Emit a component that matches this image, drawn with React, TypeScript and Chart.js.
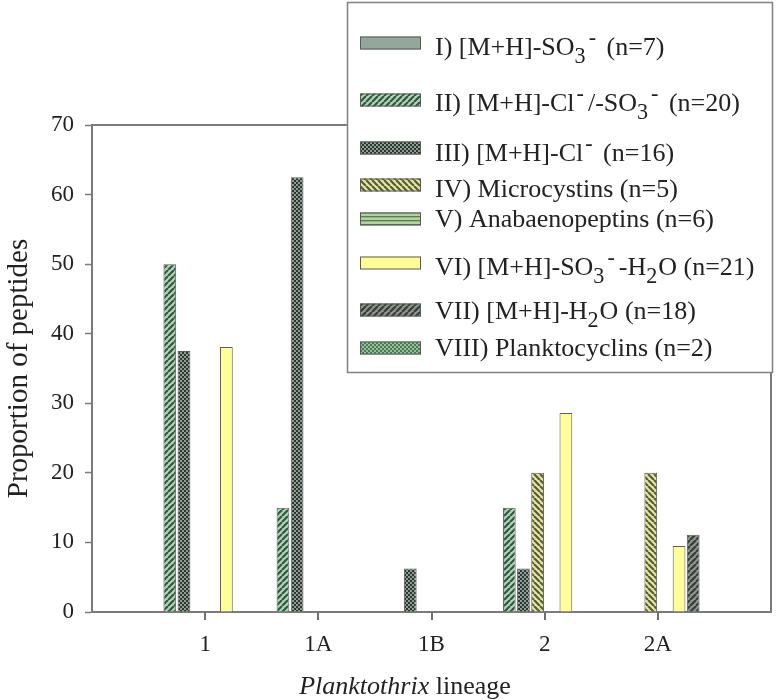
import React, { useEffect, useRef } from 'react';
import { Chart, registerables } from 'chart.js';

Chart.register(...registerables);

// ---------------- data ----------------
const categories = ['1', '1A', '1B', '2', '2A'];

const legendLabels = [
  'I) [M+H]-SO_{3}^{-} (n=7)',
  'II) [M+H]-Cl^{-}/-SO_{3}^{-} (n=20)',
  'III) [M+H]-Cl^{-} (n=16)',
  'IV) Microcystins (n=5)',
  'V) Anabaenopeptins (n=6)',
  'VI) [M+H]-SO_{3}^{-}-H_{2}O (n=21)',
  'VII) [M+H]-H_{2}O (n=18)',
  'VIII) Planktocyclins (n=2)',
];

const seriesI = [0, 0, 0, 0, 0];
const seriesII = [50, 15, 0, 15, 0];
const seriesIII = [37.5, 62.5, 6.25, 6.25, 0];
const seriesIV = [0, 0, 0, 20, 20];
const seriesV = [0, 0, 0, 0, 0];
const seriesVI = [38.1, 0, 0, 28.6, 9.5];
const seriesVII = [0, 0, 0, 0, 11.1];
const seriesVIII = [0, 0, 0, 0, 0];

const yMin = 0;
const yMax = 70;
const yStep = 10;
const yTitle = 'Proportion of peptides';
const xTitleItalic = 'Planktothrix';
const xTitleRest = ' lineage';

// ---------------- helpers ----------------
const FONT = "'Liberation Serif', 'Times New Roman', serif";

type Seg = { t: string; k: 'n' | 'sub' | 'sup' };
function parseRich(s: string): Seg[] {
  const out: Seg[] = [];
  const re = /([_^])\{([^}]*)\}/g;
  let last = 0;
  let m: RegExpExecArray | null;
  while ((m = re.exec(s))) {
    if (m.index > last) out.push({ t: s.slice(last, m.index), k: 'n' });
    out.push({ t: m[2], k: m[1] === '_' ? 'sub' : 'sup' });
    last = re.lastIndex;
  }
  if (last < s.length) out.push({ t: s.slice(last), k: 'n' });
  return out;
}
function plain(s: string) {
  return s.replace(/[_^]\{([^}]*)\}/g, '$1');
}

function drawRich(ctx: CanvasRenderingContext2D, s: string, x: number, y: number, size: number) {
  let cx = x;
  for (const seg of parseRich(s)) {
    const script = seg.k !== 'n';
    const fs = script ? size * 0.85 : size;
    const dy = seg.k === 'sub' ? size * 0.3 : seg.k === 'sup' ? -size * 0.4 : 0;
    if (seg.k === 'sup') cx += 2;
    ctx.font = `${fs}px ${FONT}`;
    ctx.fillText(seg.t, cx, y + dy);
    cx += ctx.measureText(seg.t).width;
    if (seg.k === 'sup') cx += 4;
    if (seg.k === 'sub') cx += 1;
  }
}

function makePattern(
  main: CanvasRenderingContext2D,
  size: number,
  draw: (g: CanvasRenderingContext2D, s: number) => void
) {
  const c = document.createElement('canvas');
  c.width = size;
  c.height = size;
  const g = c.getContext('2d')!;
  draw(g, size);
  return main.createPattern(c, 'repeat')!;
}

function diag(bg: string, fg: string, lw: number, dir: 'up' | 'down') {
  return (g: CanvasRenderingContext2D, s: number) => {
    g.fillStyle = bg;
    g.fillRect(0, 0, s, s);
    g.strokeStyle = fg;
    g.lineWidth = lw;
    g.beginPath();
    for (const k of [-s, 0, s]) {
      if (dir === 'up') {
        g.moveTo(k, s);
        g.lineTo(k + s, 0);
      } else {
        g.moveTo(k, 0);
        g.lineTo(k + s, s);
      }
    }
    g.stroke();
  };
}

function checker(a: string, b: string) {
  return (g: CanvasRenderingContext2D, s: number) => {
    g.fillStyle = a;
    g.fillRect(0, 0, s, s);
    g.fillStyle = b;
    const h = s / 2;
    g.fillRect(0, 0, h, h);
    g.fillRect(h, h, h, h);
  };
}

function hstripes(bg: string, fg: string) {
  return (g: CanvasRenderingContext2D, s: number) => {
    g.fillStyle = bg;
    g.fillRect(0, 0, s, s);
    g.fillStyle = fg;
    g.fillRect(0, 0, s, 1.3);
  };
}

// legend layout (swatch centres and text baselines)
const LEG_SWATCH_Y = [43, 100, 148, 185, 219, 263, 310, 348];
const LEG_TEXT_Y = [55, 111, 161, 197, 227, 275, 319, 356];

export default function App() {
  const ref = useRef<HTMLCanvasElement | null>(null);

  useEffect(() => {
    const canvas = ref.current!;
    const ctx = canvas.getContext('2d')!;

    const fills: (string | CanvasPattern)[] = [
      '#93a79b',
      makePattern(ctx, 6, diag('#a5dbb2', '#3f4f46', 2.2, 'up')),
      makePattern(ctx, 4, checker('#2c352f', '#8e9e93')),
      makePattern(ctx, 6, diag('#e6e892', '#555a48', 2.2, 'down')),
      makePattern(ctx, 4, hstripes('#b2d29f', '#5d7a55')),
      '#ffff99',
      makePattern(ctx, 6, diag('#939993', '#3b423c', 2.4, 'up')),
      makePattern(ctx, 4, checker('#4d7a55', '#93c09a')),
    ];

    const allSeries = [seriesI, seriesII, seriesIII, seriesIV, seriesV, seriesVI, seriesVII, seriesVIII];
    const pad = (a: number[]) => [null, ...a, null];

    const framePlugin = {
      id: 'frame',
      afterDatasetsDraw(chart: any) {
        const { ctx: c, chartArea: a } = chart;
        c.save();
        c.strokeStyle = '#7a7a7a';
        c.lineWidth = 2;
        c.beginPath();
        c.moveTo(a.left, a.top);
        c.lineTo(a.right, a.top);
        c.lineTo(a.right, a.bottom);
        c.stroke();
        c.restore();
      },
    };

    const xTitlePlugin = {
      id: 'xTitle',
      afterDraw(chart: any) {
        const c = chart.ctx as CanvasRenderingContext2D;
        const a = chart.chartArea;
        c.save();
        // category tick marks below the x axis
        const xs = chart.scales.x;
        c.fillStyle = '#707070';
        categories.forEach((_, i) => {
          const px = Math.round(xs.getPixelForValue(i + 1));
          c.fillRect(px - 1, a.bottom, 2, 8);
        });
        c.fillStyle = '#222';
        c.textBaseline = 'alphabetic';
        c.font = `italic 26px ${FONT}`;
        const w1 = c.measureText(xTitleItalic).width;
        c.font = `26px ${FONT}`;
        const w2 = c.measureText(xTitleRest).width;
        const cx = 405;
        const x0 = cx - (w1 + w2) / 2;
        c.font = `italic 26px ${FONT}`;
        c.fillText(xTitleItalic, x0, 694);
        c.font = `26px ${FONT}`;
        c.fillText(xTitleRest, x0 + w1, 694);
        c.restore();
      },
    };

    const legendPlugin = {
      id: 'boxLegend',
      afterDraw(chart: any) {
        const c = chart.ctx as CanvasRenderingContext2D;
        c.save();
        c.fillStyle = '#ffffff';
        c.fillRect(347, 2, 426, 371);
        c.strokeStyle = '#808080';
        c.lineWidth = 1.5;
        c.strokeRect(347.5, 2.5, 425, 370);
        chart.data.datasets.forEach((ds: any, i: number) => {
          const cy = LEG_SWATCH_Y[i];
          c.fillStyle = ds.backgroundColor;
          c.fillRect(360, cy - 6.5, 61, 13);
          c.strokeStyle = '#5a5a5a';
          c.lineWidth = 1;
          c.strokeRect(360.5, cy - 6, 60, 12);
          c.fillStyle = '#222';
          c.textBaseline = 'alphabetic';
          drawRich(c, legendLabels[i], 435, LEG_TEXT_Y[i], 26);
        });
        c.restore();
      },
    };

    const chart = new Chart(ctx, {
      type: 'bar',
      data: {
        labels: ['', ...categories, ''],
        datasets: allSeries.map((s, i) => ({
          label: plain(legendLabels[i]),
          data: pad(s),
          backgroundColor: fills[i] as any,
          borderColor: '#5e5e5e',
          borderWidth: 1,
          categoryPercentage: 1,
          barPercentage: 0.9,
        })),
      },
      options: {
        responsive: false,
        animation: false,
        events: [],
        layout: { padding: { top: 125, right: 6, left: 0, bottom: 0 } },
        plugins: {
          legend: { display: false },
          tooltip: { enabled: false },
          title: { display: false },
        },
        scales: {
          x: {
            type: 'category',
            offset: false,
            border: { display: true, color: '#7a7a7a', width: 2 },
            grid: {
              display: true,
              offset: false,
              drawOnChartArea: false,
              drawTicks: false,
              tickLength: 7,
            },
            ticks: {
              autoSkip: false,
              maxRotation: 0,
              padding: 19,
              color: '#222',
              font: { family: FONT, size: 23 },
            },
            afterFit: (s: any) => {
              s.height = 88;
              s.paddingLeft = 0;
              s.paddingRight = 0;
            },
          },
          y: {
            min: yMin,
            max: yMax,
            border: { display: true, color: '#7a7a7a', width: 2 },
            grid: {
              display: true,
              drawOnChartArea: false,
              drawTicks: true,
              tickLength: 7,
              tickWidth: 1.5,
              tickColor: '#7a7a7a',
            },
            ticks: {
              stepSize: yStep,
              padding: 11,
              color: '#222',
              font: { family: FONT, size: 23 },
            },
            title: {
              display: true,
              text: yTitle,
              color: '#222',
              font: { family: FONT, size: 29 },
              padding: { top: 2, bottom: 0 },
            },
            afterFit: (s: any) => {
              s.width = 92;
            },
          },
        },
      },
      plugins: [framePlugin, xTitlePlugin, legendPlugin],
    });

    return () => chart.destroy();
  }, []);

  return (
    <div style={{ position: 'absolute', left: 0, top: 0, width: 777, height: 700, background: '#fff' }}>
      <canvas ref={ref} width={777} height={700} style={{ display: 'block' }} />
    </div>
  );
}
